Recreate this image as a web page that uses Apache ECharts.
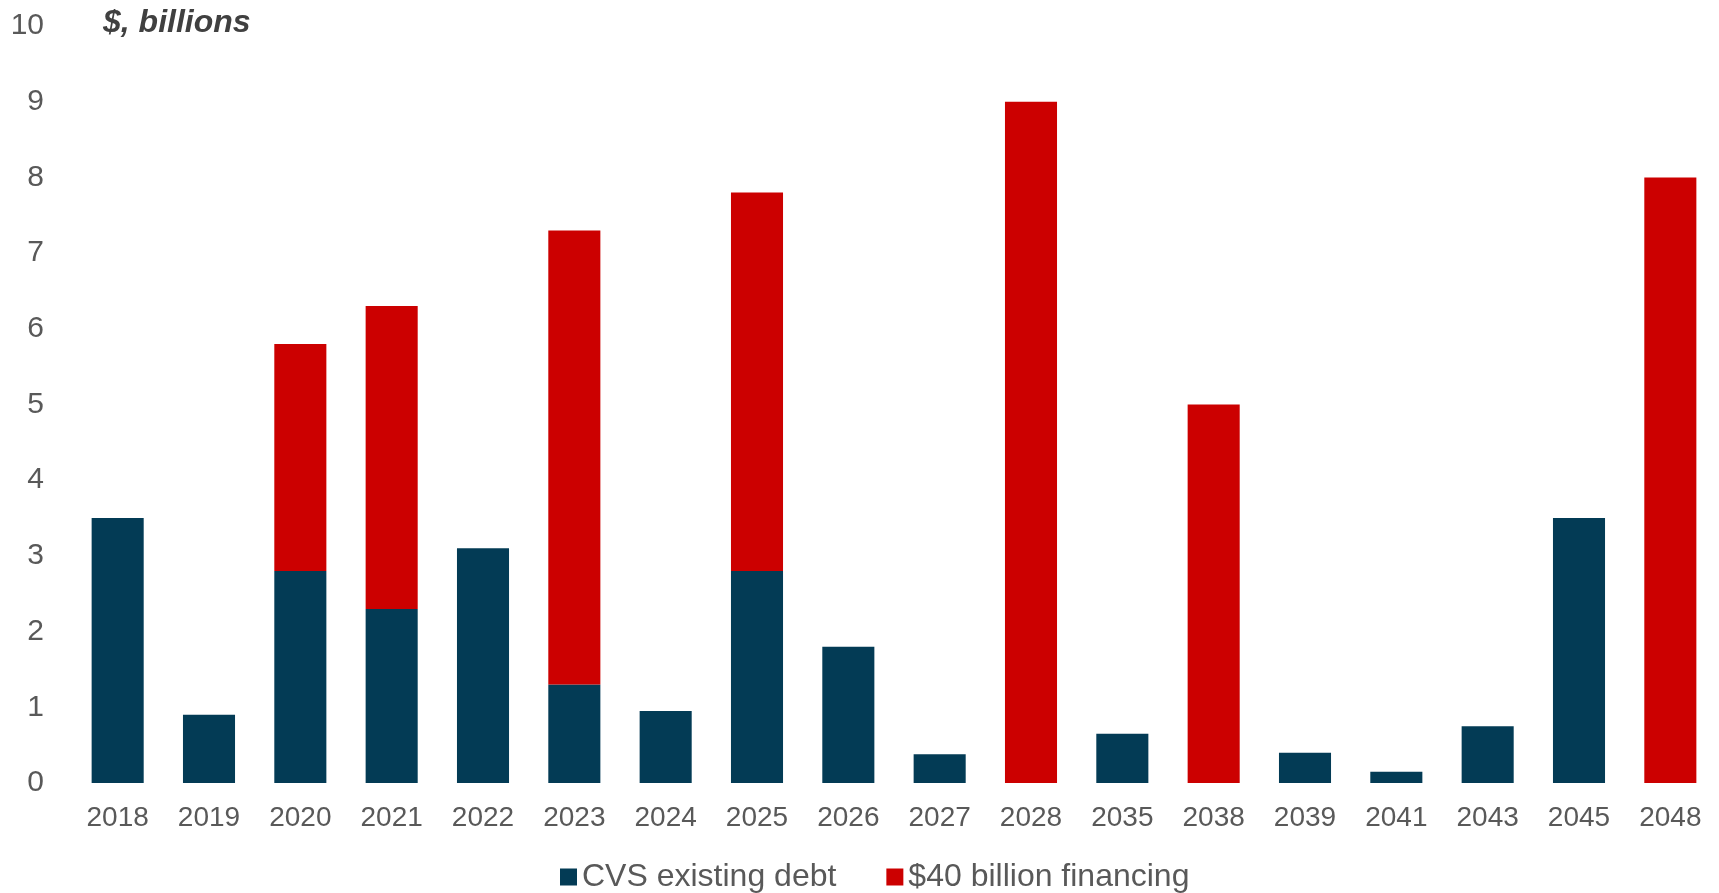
<!DOCTYPE html>
<html>
<head>
<meta charset="utf-8">
<script src="https://cdn.jsdelivr.net/npm/echarts@6/dist/echarts.min.js"></script>
<style>
  html, body { margin: 0; padding: 0; background: #fff; }
  #chart { width: 1719px; height: 893px; }
</style>
</head>
<body>
<div id="chart"></div>
<script>
const years = ['2018', '2019', '2020', '2021', '2022', '2023', '2024', '2025', '2026',
  '2027', '2028', '2035', '2038', '2039', '2041', '2043', '2045', '2048']
const existingDebt = [3.5, 0.9, 2.8, 2.3, 3.1, 1.3, 0.95, 2.8, 1.8,
  0.38, 0, 0.65, 0, 0.4, 0.15, 0.75, 3.5, 0]
const newFinancing = [0, 0, 3.0, 4.0, 0, 6.0, 0, 5.0, 0,
  0, 9.0, 0, 5.0, 0, 0, 0, 0, 8.0]

const fontColor = '#595959'
const fontFamily = '"Liberation Sans", Arial, sans-serif'

const myChart = echarts.init(document.getElementById('chart'))
myChart.setOption({
  animation: false,
  textStyle: { fontFamily },
  title: {
    text: '$, billions',
    left: 98,
    top: 2,
    textStyle: {
      color: '#404040',
      fontSize: 32,
      fontWeight: 'bold',
      fontStyle: 'italic',
      fontFamily
    }
  },
  legend: {
    top: 856,
    left: 555,
    icon: 'rect',
    itemWidth: 17,
    itemHeight: 17,
    itemGap: 50,
    textStyle: { color: fontColor, fontSize: 32, fontFamily },
    data: ['CVS existing debt', '$40 billion financing']
  },
  grid: {
    top: 26,
    left: 72,
    right: 3,
    bottom: 110,
    containLabel: false
  },
  xAxis: {
    type: 'category',
    data: years,
    axisLine: { show: false },
    axisTick: { show: false },
    axisLabel: { color: fontColor, fontSize: 28, margin: 21, fontFamily }
  },
  yAxis: {
    type: 'value',
    min: 0,
    max: 10,
    interval: 1,
    splitLine: { show: false },
    axisLine: { show: false },
    axisTick: { show: false },
    axisLabel: { color: fontColor, fontSize: 30, margin: 28, fontFamily }
  },
  series: [
    {
      name: 'CVS existing debt',
      type: 'bar',
      stack: 'total',
      barWidth: '57%',
      itemStyle: { color: '#033b55' },
      data: existingDebt
    },
    {
      name: '$40 billion financing',
      type: 'bar',
      stack: 'total',
      itemStyle: { color: '#cc0000' },
      data: newFinancing
    }
  ]
})
</script>
</body>
</html>
